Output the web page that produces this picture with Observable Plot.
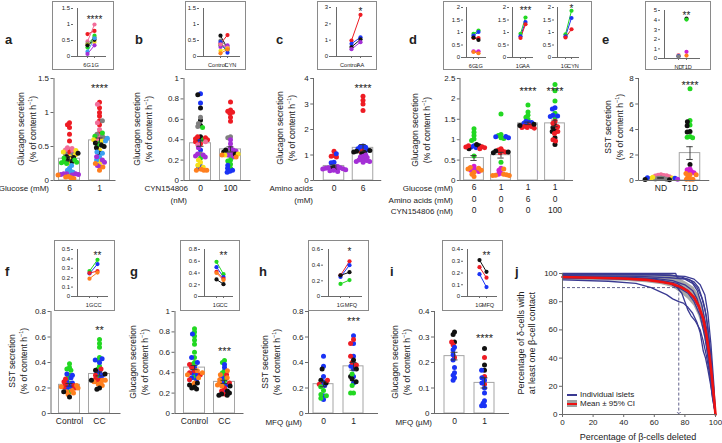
<!DOCTYPE html>
<html><head><meta charset="utf-8">
<script src="https://cdn.jsdelivr.net/npm/d3@7"></script>
<script src="https://cdn.jsdelivr.net/npm/@observablehq/plot@0.6"></script>
<style>
body{margin:0;background:#fff;}
#fig{position:relative;width:722px;height:443px;overflow:hidden;font-family:"Liberation Sans",Arial,Helvetica,sans-serif;color:#222;background:#fff;}
.t{position:absolute;white-space:nowrap;}
.box{position:absolute;border:1px solid #8a8a8a;box-sizing:border-box;}
sup{font-size:0.65em;line-height:0;vertical-align:0.55em;}
svg{position:absolute;}
</style></head>
<body><div id="fig"></div>
<script>
// ---------- colours ----------
const COL = {red:"#ee1c24", pink:"#f26d9a", gray:"#808080", green:"#22d822", yellow:"#f5e01a", black:"#111111",
  ltblue:"#3b9ff0", blue:"#1a33f5", purple:"#a42fd6", orange:"#ff7f1e", magenta:"#d21fd2"};

// ---------- panel a ----------
const aCats = ["6", "1"];
const aG6 = {red:[0.85,0.82,0.78,0.68,0.58,0.45,0.42,0.40], pink:[0.48,0.47,0.45,0.43], gray:[0.39,0.38,0.30],
  yellow:[0.44,0.42,0.38,0.35,0.25], black:[0.40,0.35,0.34,0.30,0.28], green:[0.33,0.30,0.28,0.27,0.26,0.25],
  ltblue:[0.22,0.18,0.15,0.14,0.12,0.10], purple:[0.10,0.10,0.10,0.09,0.09,0.08], orange:[0.08,0.06,0.05,0.04,0.03]};
const aG1 = {red:[1.15,1.07,1.00,0.95,0.88,0.82,0.70,0.60], pink:[1.12,0.85,0.75,0.65,0.60], gray:[0.88,0.68,0.65,0.62],
  green:[0.70,0.65,0.55,0.52], yellow:[0.60,0.58,0.45,0.30,0.25], black:[0.55,0.52,0.50,0.48,0.40],
  ltblue:[0.62,0.58,0.42,0.40,0.35,0.30], purple:[0.35,0.30,0.27,0.22,0.20], orange:[0.25,0.20,0.15]};
const aMeans = [0.32, 0.59];
const aSems = [0.03, 0.035];
const aInsetCats = ["6G", "1G"];
const aInset = {red:[0.70,0.80], pink:[0.47,1.00], gray:[0.40,0.60], green:[0.28,0.65], yellow:[0.37,0.45],
  black:[0.35,0.52], ltblue:[0.15,0.57], purple:[0.08,0.35]};

// ---------- panel b ----------
const bCats = ["0", "100"];
const bG0 = {blue:[0.85,0.76,0.40,0.38,0.30,0.14,0.12], black:[0.84,0.71,0.59,0.54,0.43], gray:[0.62,0.56,0.53,0.26],
  green:[0.52,0.40,0.22], red:[0.43,0.42,0.41,0.40,0.38,0.36], pink:[0.38,0.35], purple:[0.32,0.26,0.25,0.24,0.23],
  yellow:[0.20,0.18,0.15,0.13], orange:[0.11,0.10,0.10,0.10]};
const bG100 = {red:[0.77,0.69,0.68,0.67,0.66,0.62,0.58], gray:[0.43,0.42,0.29,0.28,0.24],
  purple:[0.40,0.36,0.32,0.30,0.29,0.27,0.25,0.23], black:[0.30,0.28,0.26], yellow:[0.26,0.25], orange:[0.25,0.23],
  green:[0.20,0.19,0.16,0.12], blue:[0.15,0.12,0.10,0.09,0.08]};
const bMeans = [0.365, 0.305];
const bSems = [0.03, 0.025];
const bInsetCats = ["Control", "CYN"];
const bInset = {black:[0.65,0.25], red:[0.40,0.67], gray:[0.50,0.30], green:[0.35,0.20], blue:[0.45,0.12],
  purple:[0.30,0.35], pink:[0.38,0.28], yellow:[0.18,0.25], orange:[0.10,0.22]};

// ---------- panel c ----------
const cCats = ["0", "6"];
const cG0 = {red:[1.15,0.98,0.95,0.92], blue:[1.05,0.72,0.70], black:[0.52,0.48,0.45],
  purple:[0.55,0.50,0.50,0.48,0.46,0.45,0.42,0.40,0.38,0.35]};
const cG6 = {red:[3.30,3.15,3.00,2.75,1.20,1.15], blue:[1.35,1.32,1.30,1.25,1.20], black:[1.18,1.15,1.12,1.10,1.05],
  purple:[1.00,0.95,0.92,0.90,0.85,0.82,0.80,0.78,0.75,0.75,0.72]};
const cMeans = [0.57, 1.28];
const cSems = [0.04, 0.13];
const cInsetCats = ["Control", "AA"];
const cInset = {red:[0.98,2.55], blue:[0.78,1.18], black:[0.58,1.05], purple:[0.45,0.88]};

// ---------- panel d ----------
const dCats = ["d1", "d2", "d3", "d4"];
const dGlucose = ["6", "1", "1", "1"];
const dAmino = ["0", "0", "6", "0"];
const dCyn = ["0", "0", "0", "100"];
const dG1 = {green:[1.27,1.18,1.10,1.02,0.98,0.60], blue:[0.85,0.82,0.80], black:[0.88,0.85,0.78],
  red:[0.85,0.83,0.82,0.80,0.78], magenta:[0.35,0.28,0.26,0.25,0.22], orange:[0.32,0.30,0.28,0.25,0.20,0.15,0.10]};
const dG2 = {green:[1.63,1.13,1.10,1.05,1.03,0.45], blue:[1.08,1.07,1.05], red:[0.78,0.75,0.72,0.70,0.68],
  black:[0.72,0.70,0.68], magenta:[0.30,0.25,0.18,0.15], orange:[0.28,0.15,0.14,0.13,0.12,0.12]};
const dG3 = {green:[1.85,1.68,1.60,1.55,1.50], blue:[1.45,1.43,1.42,1.40,1.38], red:[1.35,1.33,1.32,1.30,1.30,1.28],
  black:[1.38,1.35]};
const dG4 = {green:[2.35,2.20,1.95,1.65,1.55], blue:[1.78,1.75,1.60,1.58,1.57], black:[1.35,1.30,1.22,1.20,1.05,0.88],
  red:[1.45,1.40,1.32,1.20,1.15,1.00,0.97]};
const dMeans = [0.55, 0.62, 1.40, 1.40];
const dSems = [0.06, 0.07, 0.03, 0.08];
const dInset1Cats = ["6G", "1G"];
const dInset1 = {green:[0.95,1.08], blue:[0.88,1.02], red:[0.78,0.78], black:[0.80,0.70], magenta:[0.25,0.25], orange:[0.22,0.17]};
const dInset2Cats = ["1G", "AA"];
const dInset2 = {green:[0.95,1.60], blue:[0.85,1.42], red:[0.78,1.33]};
const dInset3Cats = ["1G", "CYN"];
const dInset3 = {green:[0.93,1.87], blue:[0.85,1.58], red:[0.80,1.13]};

// ---------- panel e ----------
const eCats = ["ND", "T1D"];
const eND = {pink:[0.45,0.42,0.40,0.38,0.35,0.30], gray:[0.20,0.18,0.15,0.12,0.10], yellow:[0.25,0.20,0.15],
  blue:[0.22,0.18], black:[0.08,0.05], purple:[0.10]};
const eT1D = {green:[7.20,4.70,4.35,3.45,3.40,3.35], black:[4.60,4.30,3.85,3.80,1.25], magenta:[0.90,0.85,0.70,0.65,0.60],
  orange:[0.55,0.45,0.45,0.30,0.10,0.10,0.10]};
const eMeans = [0.20, 2.15];
const eSems = [0.03, 0.50];
const eInsetCats = ["ND", "T1D"];
const eInset = {pink:[0.35,null], yellow:[0.28,null], blue:[0.24,null], gray:[0.20,null],
  black:[null,4.15], green:[null,4.05], magenta:[null,0.70], orange:[null,0.30]};

// ---------- panel f ----------
const fCats = ["Control", "CC"];
const fCtrl = {green:[0.39,0.36,0.35,0.34,0.30,0.28,0.24,0.17], blue:[0.31,0.30,0.28,0.25,0.24,0.22,0.21,0.20],
  red:[0.27,0.25,0.23,0.22,0.21,0.20], orange:[0.22,0.21,0.20,0.18,0.17,0.16,0.15], black:[0.17,0.13]};
const fCC = {green:[0.58,0.55,0.52,0.44,0.42,0.37,0.35,0.30,0.28], blue:[0.43,0.42,0.40,0.33,0.32,0.30,0.28],
  red:[0.35,0.30,0.27,0.26,0.25], orange:[0.26,0.26,0.25,0.24,0.23,0.22], black:[0.34,0.31,0.26,0.20,0.19]};
const fMeans = [0.225, 0.31];
const fSems = [0.01, 0.015];
const fInsetCats = ["1G", "CC"];
const fInset = {green:[0.27,0.39], blue:[0.245,0.345], red:[0.25,0.27], orange:[0.19,0.255]};

// ---------- panel g ----------
const gCats = ["Control", "CC"];
const gCtrl = {green:[0.83,0.80,0.76,0.72,0.68,0.60,0.55,0.50,0.48,0.38,0.35], blue:[0.78,0.55,0.50,0.45,0.40,0.38,0.35,0.33],
  red:[0.48,0.45,0.42,0.40,0.38,0.33], orange:[0.42,0.40,0.38,0.35,0.30,0.28], black:[0.30,0.28,0.26,0.25,0.24]};
const gCC = {green:[0.52,0.50,0.42,0.40,0.36,0.32,0.28], blue:[0.48,0.45,0.35,0.30,0.28,0.22],
  red:[0.38,0.30,0.25,0.22,0.19], orange:[0.42,0.38,0.35,0.33,0.30,0.28,0.27], black:[0.27,0.22,0.20,0.19,0.18,0.18]};
const gMeans = [0.45, 0.31];
const gSems = [0.02, 0.015];
const gInsetCats = ["1G", "CC"];
const gInset = {green:[0.59,0.38], blue:[0.50,0.33], red:[0.42,0.30], orange:[0.40,0.28], black:[0.29,0.21]};

// ---------- panel h ----------
const hCats = ["0", "1"];
const h0 = {blue:[0.45,0.37,0.29,0.25,0.23,0.22,0.14,0.11], black:[0.35,0.26,0.24], red:[0.26,0.23],
  green:[0.21,0.18,0.15,0.14,0.12]};
const h1 = {blue:[0.61,0.55,0.45,0.38,0.37,0.35,0.29,0.24], red:[0.58,0.55,0.45,0.40,0.38],
  black:[0.42,0.35,0.29,0.27,0.25], green:[0.31,0.22,0.16,0.16]};
const hMeans = [0.23, 0.37];
const hSems = [0.02, 0.03];
const hInsetCats = ["1G", "MFQ"];
const hInset = {red:[0.27,0.45], blue:[0.25,0.40], black:[0.27,0.31], green:[0.16,0.21]};

// ---------- panel i ----------
const iCats = ["0", "1"];
const i0 = {black:[0.32,0.31,0.28], red:[0.28,0.27,0.22], blue:[0.26,0.25,0.23,0.21,0.18,0.16,0.15,0.14,0.13]};
const i1 = {black:[0.255,0.19,0.17], red:[0.22,0.145,0.115], blue:[0.17,0.14,0.13,0.12,0.10,0.08,0.05,0.04,0.03,0.03]};
const iMeans = [0.225, 0.12];
const iSems = [0.015, 0.02];
const iInsetCats = ["1G", "MFQ"];
const iInset = {black:[0.31,0.21], red:[0.25,0.16], blue:[0.19,0.08]};

// ---------- panel j ----------
const jMean = [[0,97.5],[20,97],[40,96.5],[55,95.5],[65,94],[72,92.5],[78,90],[82,87.5],[86,83],[89,77],[92,68],[94,57],[96,42],[97.5,28],[99,12],[100,0]];
const jCI = [[0,95,100],[20,95,100],[40,94.5,99.8],[55,93.5,99.6],[65,92,99.3],[72,90,99],[75,88,98],[78,85.5,95.5],[82,82,93],[86,77,90],[89,70,85],[92,60,77],[94,48,66],[96,34,50],[97.5,22,35],[99,8,16],[100,0,0]];
const jIslet1 = [[0,100],[74,100],[75,97],[82,96],[86,94],[89,90],[92,80],[94,70],[96,50],[98,25],[100,0]];
const jIslet2 = [[0,99],[60,99],[80,98],[86,96],[90,92],[93,85],[95,72],[97,50],[99,20],[100,0]];
const jIslet3 = [[0,98.5],[50,98],[70,97],[80,96],[85,93],[88,88],[91,78],[94,62],[96,45],[98,22],[100,0]];
const jIslet4 = [[0,98],[40,97.5],[60,96.5],[72,95],[80,92],[85,88],[88,82],[91,70],[94,55],[96,38],[98,18],[100,0]];
const jIslet5 = [[0,97],[30,96.5],[55,96],[68,94],[76,90],[82,86],[86,80],[90,70],[93,55],[96,35],[98,15],[100,0]];
const jIslet6 = [[0,95.5],[30,94.5],[48,93],[58,90],[64,87],[68,85],[72,82],[76,80],[79,79],[82,76],[85,72],[88,65],[90,58],[92,45],[93.5,40],[95,32],[97,20],[99,6],[100,0]];
const jIslet7 = [[0,97],[40,96],[60,95],[70,93],[75,90],[78,86],[80,80],[82,74],[84,70],[87,66],[90,60],[92,52],[94,42],[96,30],[98,14],[100,0]];
const jIslet8 = [[0,99.5],[70,99],[78,97.5],[84,95],[88,90],[91,83],[93,75],[95,62],[97,42],[99,15],[100,0]];
const jIslet9 = [[0,97.5],[40,97],[60,96],[75,93],[82,88],[86,82],[89,76],[92,66],[94,52],[96,32],[98,12],[100,0]];
const jCutX = 76, jCutY = 90;
const jTicks = [0, 20, 40, 60, 80, 100];

// ---------- texts ----------
const tGlucagon = ["Glucagon secretion", "(% of content h<sup>−1</sup>)"];
const tSST = ["SST secretion", "(% of content h<sup>−1</sup>)"];
const tJy = ["Percentage of δ-cells with", "at least one β-cell contact"];
const tJx = "Percentage of β-cells deleted";
const tLegend = ["Individual islets", "Mean ± 95% CI"];

// =================================================================
const AX = "#6a6a6a";
const FONT = "'Liberation Sans', Arial, Helvetica, sans-serif";
const fig = document.getElementById("fig");
const style = () => ({background: "none", overflow: "visible", fontFamily: FONT, fontSize: "8px", color: "#222", position: "absolute", maxWidth: "none"});
function place(node, left, top, z) { node.style.left = left + "px"; node.style.top = top + "px"; if (z) node.style.zIndex = z; fig.appendChild(node); }
const fmt = d => `${d}`;

function mainPanel(p) {
  const n = p.cats.length;
  const frameLeft = p.c1 - p.step / 2, frameW = p.step * n;
  const gapL = frameLeft - p.axis, gapR = p.end - (frameLeft + frameW);
  const mL = 40, mR = 16, mT = 14, mB = 42;
  const rows = [];
  p.groups.forEach((grp, i) => {
    for (const [c, vals] of Object.entries(grp)) for (const v of vals) rows.push({g: p.cats[i], v, c: COL[c]});
  });
  const stats = p.cats.map((g, i) => ({g, m: p.means[i], s: p.sems[i]}));
  const barIn = (p.step - p.bw) / 2, capIn = p.step / 2 - 3.5;
  const marks = [
    Plot.rect(stats, {fx: "g", y1: 0, y2: "m", fill: "white", stroke: "#a5a5a5", strokeWidth: 1, insetLeft: barIn, insetRight: barIn}),
    Plot.dot(rows, Plot.dodgeX({anchor: "middle", padding: -2.1}, {fx: "g", y: "v", r: 2.5, fill: "c"})),
    Plot.ruleX(stats, {fx: "g", x: null, y1: d => d.m - d.s, y2: d => d.m + d.s, stroke: "#333", strokeWidth: 0.9}),
    Plot.ruleY(stats, {fx: "g", y: d => d.m + d.s, insetLeft: capIn, insetRight: capIn, stroke: "#333", strokeWidth: 0.9}),
    Plot.ruleY(stats, {fx: "g", y: d => d.m - d.s, insetLeft: capIn, insetRight: capIn, stroke: "#333", strokeWidth: 0.9}),
    Plot.ruleY([0], {insetLeft: -gapL, insetRight: -gapR, stroke: AX}),
    Plot.ruleX([p.cats[0]], {fx: d => d, x: null, y1: p.ydom[0], y2: p.ydom[1], dx: -(p.step / 2 + gapL), stroke: AX}),
    Plot.axisY(p.yticks, {tickFormat: fmt, tickSize: 3, tickPadding: 2, dx: -gapL, fontSize: 8, label: null, stroke: AX}),
    Plot.text(p.stars, {fx: "g", y: "y", text: "t", fontSize: 11, dy: 3})
  ];
  p.catRows.forEach((labels, r) => marks.push(
    Plot.text(p.cats, {fx: d => d, text: (d, i) => labels[i], frameAnchor: "bottom", dy: p.rowDy[r], fontSize: 8.5})));
  const svg = Plot.plot({width: mL + frameW + mR, height: mT + p.h + mB, marginLeft: mL, marginRight: mR, marginTop: mT, marginBottom: mB,
    fx: {domain: p.cats, padding: 0, axis: null}, y: {domain: p.ydom}, color: {type: "identity"}, style: style(), marks});
  place(svg, frameLeft - mL, p.top - mT);
}

function insetPlot(s) {
  const mL = 18, mT = 8, mR = 8, mB = 14;
  const left = s.axis - mL, top = s.top - mT;
  const width = mL + (s.end - s.axis) + mR, height = mT + (s.bottom - s.top) + mB;
  const rows = [];
  for (const [c, vals] of Object.entries(s.series)) vals.forEach((v, i) => { if (v != null) rows.push({k: s.cats[i], v, c: COL[c]}); });
  const labDx = s.labDx || [0, 0];
  const marks = [
    Plot.ruleY([0], {stroke: AX}),
    Plot.ruleX([s.cats[0]], {x: d => d, y1: s.ydom[0], y2: s.ydom[1], dx: s.axis - s.pts[0], stroke: AX}),
    Plot.axisY(s.yticks, {tickFormat: fmt, tickSize: 2, tickPadding: 1.5, fontSize: 6, label: null, stroke: AX}),
    Plot.ruleX(s.cats, {x: d => d, y1: 0, y2: 0, insetBottom: -2, stroke: AX}),
    Plot.text([s.cats[0]], {x: d => d, y: 0, text: d => d, dy: 8.5, dx: labDx[0], fontSize: 5.6}),
    Plot.text([s.cats[1]], {x: d => d, y: 0, text: d => d, dy: 8.5, dx: labDx[1], fontSize: 5.6})
  ];
  if (s.lines !== false) marks.push(Plot.line(rows, {x: "k", y: "v", z: "c", stroke: "c", strokeWidth: 1}));
  marks.push(Plot.dot(rows, {x: "k", y: "v", fill: "c", r: 2.1}));
  if (s.star) marks.push(Plot.text([s.star], {x: d => d.k, y: d => d.y, text: d => d.t, fontSize: 10, dy: 3}));
  const svg = Plot.plot({width, height, marginLeft: mL, marginRight: mR, marginTop: mT, marginBottom: mB,
    x: {type: "point", domain: s.cats, range: [s.pts[0] - left, s.pts[1] - left], axis: null}, y: {domain: s.ydom},
    color: {type: "identity"}, style: style(), marks});
  place(svg, left, top);
}

function box(x0, y0, x1, y1) {
  const d = document.createElement("div");
  d.className = "box";
  Object.assign(d.style, {left: x0 + "px", top: y0 + "px", width: (x1 - x0) + "px", height: (y1 - y0) + "px"});
  fig.appendChild(d);
}
function txt(str, x, y, o = {}) {
  const d = document.createElement("div");
  d.className = "t";
  d.innerHTML = str;
  d.style.fontSize = (o.size || 8) + "px";
  d.style.lineHeight = "1.15";
  if (o.bold) d.style.fontWeight = "bold";
  const ax = o.anchor === "end" ? "-100%" : o.anchor === "middle" ? "-50%" : "0";
  d.style.transform = `translate(${ax}, -50%)`;
  d.style.left = x + "px"; d.style.top = y + "px";
  fig.appendChild(d);
}
function ytitle(lines, cx, cy, size = 8.5, lh = 11.5) {
  const d = document.createElement("div");
  d.className = "t";
  d.innerHTML = lines.join("<br>");
  Object.assign(d.style, {fontSize: size + "px", lineHeight: lh + "px", textAlign: "center", left: cx + "px", top: cy + "px",
    transform: "translate(-50%,-50%) rotate(-90deg)"});
  fig.appendChild(d);
}

// ---------- insets (boxes first) ----------
box(52, 1, 114, 70); box(185, 1, 246, 70); box(317, 1, 377, 70); box(443, 1, 592, 70); box(645, 1, 711, 70);
box(54, 240, 115, 311); box(180, 240, 240, 311); box(308, 240, 369, 311); box(442, 240, 503, 311);

const yT = [0, 0.5, 1, 1.5];
insetPlot({axis: 73, pts: [83, 97], end: 106, top: 8, bottom: 56, ydom: [0, 1.5], yticks: yT, cats: aInsetCats, series: aInset, labDx: [-0.5, 0.5], star: {k: "1G", y: 1.25, t: "****"}});
insetPlot({axis: 199, pts: [216, 231], end: 240, top: 8, bottom: 56, ydom: [0, 1.5], yticks: yT, cats: bInsetCats, series: bInset, labDx: [-3.5, 3]});
insetPlot({axis: 331, pts: [346, 365], end: 372, top: 7, bottom: 56, ydom: [0, 3], yticks: [0, 1, 2, 3], cats: cInsetCats, series: cInset, labDx: [-2.5, 0], star: {k: "AA", y: 2.94, t: "*"}});
const dT = [0, 0.5, 1, 1.5, 2];
insetPlot({axis: 463, pts: [470, 481], end: 486, top: 7, bottom: 57, ydom: [0, 2], yticks: dT, cats: dInset1Cats, series: dInset1, labDx: [-1, 0.5]});
insetPlot({axis: 509, pts: [517, 528], end: 533, top: 7, bottom: 57, ydom: [0, 2], yticks: dT, cats: dInset2Cats, series: dInset2, labDx: [-1, 0.5], star: {k: "AA", y: 2.0, t: "***"}});
insetPlot({axis: 554, pts: [562, 574], end: 579, top: 7, bottom: 57, ydom: [0, 2], yticks: dT, cats: dInset3Cats, series: dInset3, labDx: [-1, 1.5], star: {k: "CYN", y: 2.08, t: "*"}});
insetPlot({axis: 660, pts: [674, 690], end: 700, top: 10, bottom: 58, ydom: [0, 5], yticks: [0, 1, 2, 3, 4, 5], cats: eInsetCats, series: eInset, lines: false, star: {k: "T1D", y: 4.8, t: "**"}});
insetPlot({axis: 73, pts: [85, 101], end: 108, top: 249, bottom: 296, ydom: [0, 0.5], yticks: [0, 0.1, 0.2, 0.3, 0.4, 0.5], cats: fInsetCats, series: fInset, star: {k: "CC", y: 0.47, t: "**"}});
insetPlot({axis: 200, pts: [212, 227], end: 233, top: 249, bottom: 296, ydom: [0, 0.8], yticks: [0, 0.2, 0.4, 0.6, 0.8], cats: gInsetCats, series: gInset, star: {k: "CC", y: 0.75, t: "**"}});
insetPlot({axis: 323, pts: [335, 354], end: 362, top: 249, bottom: 296, ydom: [0, 0.6], yticks: [0, 0.2, 0.4, 0.6], cats: hInsetCats, series: hInset, labDx: [0, 1.5], star: {k: "MFQ", y: 0.61, t: "*"}});
insetPlot({axis: 463, pts: [475, 490], end: 497, top: 249, bottom: 296, ydom: [0, 0.4], yticks: [0, 0.1, 0.2, 0.3, 0.4], cats: iInsetCats, series: iInset, labDx: [-0.5, 1.5], star: {k: "MFQ", y: 0.375, t: "**"}});

// ---------- main swarm panels ----------
const R1 = 78, H = 102, R2 = 311;
mainPanel({cats: aCats, groups: [aG6, aG1], means: aMeans, sems: aSems, axis: 53, c1: 68.5, step: 30, bw: 21, end: 115,
  top: R1, h: H, ydom: [0, 1.5], yticks: [0, 0.5, 1, 1.5], stars: [{g: "1", y: 1.40, t: "****"}], catRows: [aCats], rowDy: [10]});
mainPanel({cats: bCats, groups: [bG0, bG100], means: bMeans, sems: bSems, axis: 183, c1: 199.5, step: 30, bw: 21, end: 250,
  top: R1, h: H, ydom: [0, 1], yticks: [0, 0.2, 0.4, 0.6, 0.8, 1], stars: [], catRows: [bCats], rowDy: [10]});
mainPanel({cats: cCats, groups: [cG0, cG6], means: cMeans, sems: cSems, axis: 312, c1: 332.5, step: 29.5, bw: 21, end: 381,
  top: R1, h: H, ydom: [0, 4], yticks: [0, 1, 2, 3, 4], stars: [{g: "6", y: 3.73, t: "****"}], catRows: [cCats], rowDy: [10]});
mainPanel({cats: dCats, groups: [dG1, dG2, dG3, dG4], means: dMeans, sems: dSems, axis: 459, c1: 473, step: 27.7, bw: 20.5, end: 575,
  top: R1, h: H, ydom: [0, 2.5], yticks: [0, 0.5, 1, 1.5, 2, 2.5], stars: [{g: "d3", y: 2.25, t: "****"}, {g: "d4", y: 2.25, t: "****"}],
  catRows: [dGlucose, dAmino, dCyn], rowDy: [10, 22, 33]});
mainPanel({cats: eCats, groups: [eND, eT1D], means: eMeans, sems: eSems, axis: 637, c1: 659.5, step: 29.5, bw: 21, end: 709,
  top: R1, h: H, ydom: [0, 8], yticks: [0, 2, 4, 6, 8], stars: [{g: "T1D", y: 7.7, t: "****"}], catRows: [eCats], rowDy: [10]});
mainPanel({cats: fCats, groups: [fCtrl, fCC], means: fMeans, sems: fSems, axis: 50, c1: 68.5, step: 30, bw: 21, end: 120,
  top: R2, h: H, ydom: [0, 0.8], yticks: [0, 0.2, 0.4, 0.6, 0.8], stars: [{g: "CC", y: 0.675, t: "**"}], catRows: [fCats], rowDy: [10]});
mainPanel({cats: gCats, groups: [gCtrl, gCC], means: gMeans, sems: gSems, axis: 174, c1: 193.5, step: 30, bw: 21, end: 243,
  top: R2, h: H, ydom: [0, 1], yticks: [0, 0.2, 0.4, 0.6, 0.8, 1], stars: [{g: "CC", y: 0.64, t: "***"}], catRows: [gCats], rowDy: [10]});
mainPanel({cats: hCats, groups: [h0, h1], means: hMeans, sems: hSems, axis: 308, c1: 323, step: 30, bw: 20, end: 378,
  top: R2, h: H, ydom: [0, 0.8], yticks: [0, 0.2, 0.4, 0.6, 0.8], stars: [{g: "1", y: 0.745, t: "***"}], catRows: [hCats], rowDy: [10]});
mainPanel({cats: iCats, groups: [i0, i1], means: iMeans, sems: iSems, axis: 434, c1: 454, step: 30, bw: 20, end: 509,
  top: R2, h: H, ydom: [0, 0.4], yticks: [0, 0.1, 0.2, 0.3, 0.4], stars: [{g: "1", y: 0.306, t: "****"}], catRows: [iCats], rowDy: [10]});

// ---------- panel j ----------
{
  const mL = 44, mR = 7, mT = 8, mB = 4;
  const islets = [jIslet1, jIslet2, jIslet3, jIslet4, jIslet5, jIslet6, jIslet7, jIslet8, jIslet9]
    .flatMap((arr, id) => arr.map(([x, y]) => ({id, x, y})));
  const svg = Plot.plot({width: mL + 153 + mR, height: mT + 141 + mB, marginLeft: mL, marginRight: mR, marginTop: mT, marginBottom: mB,
    x: {domain: [0, 100], axis: null}, y: {domain: [0, 100], axis: null}, style: style(),
    marks: [
      Plot.areaY(jCI, {x: d => d[0], y1: d => d[1], y2: d => d[2], fill: "#a9a9a9"}),
      Plot.line(islets, {x: "x", y: "y", z: "id", stroke: "#3a3a92", strokeWidth: 1.3}),
      Plot.line(jMean, {x: d => d[0], y: d => d[1], stroke: "#ee1111", strokeWidth: 2.6}),
      Plot.ruleY([jCutY], {x1: 0, x2: jCutX, stroke: "#3a3a70", strokeWidth: 0.8, strokeDasharray: "3,2"}),
      Plot.link([jCutX], {x1: d => d, x2: d => d, y1: jCutY, y2: 1, stroke: "#3a3a70", strokeWidth: 0.8, strokeDasharray: "3,2", markerEnd: "arrow"}),
      Plot.ruleX([0], {stroke: AX}),
      Plot.ruleY([0], {stroke: AX}),
      Plot.ruleX(jTicks, {x: d => d, y1: 0, y2: 0, insetBottom: -3, stroke: AX}),
      Plot.ruleY(jTicks, {y: d => d, x1: 0, x2: 0, insetLeft: -3, stroke: AX}),
      Plot.text(jTicks, {x: 0, y: d => d, text: fmt, dx: -5, textAnchor: "end", fontSize: 8, fill: "#222"})
    ]});
  place(svg, 562 - mL, 273 - mT, 10);
  // x tick labels of panel j: a strip sharing the x domain, labels lifted above the strip into place under the axis
  const mLx = 10, mRx = 10;
  const xsvg = Plot.plot({width: mLx + 153 + mRx, height: 20, marginLeft: mLx, marginRight: mRx, marginTop: 1, marginBottom: 19,
    x: {domain: [0, 100]}, style: style(),
    marks: [
      Plot.axisX(jTicks, {anchor: "bottom", tickSize: 0, tickPadding: 5, fontSize: 8, label: null, tickFormat: fmt, dy: -20})
    ]});
  place(xsvg, 562 - mLx, 433, 12);
}

// ---------- titles & labels ----------
ytitle(tGlucagon, 26.5, 129); ytitle(tGlucagon, 142.5, 129); ytitle(tGlucagon, 286, 128); ytitle(tGlucagon, 421, 130);
ytitle(tSST, 614, 127);
ytitle(tSST, 17.5, 361); ytitle(tGlucagon, 139, 362); ytitle(tSST, 271, 362); ytitle(tGlucagon, 401, 362);
ytitle(tJy, 527, 343, 9, 11);

txt("Glucose (mM)", 49, 189, {anchor: "end"});
txt("CYN154806", 188, 189, {anchor: "end"}); txt("(nM)", 187, 201, {anchor: "end"});
txt("Amino acids", 313, 189, {anchor: "end"}); txt("(mM)", 313, 201, {anchor: "end"});
txt("Glucose (mM)", 453, 189, {anchor: "end"}); txt("Amino acids (mM)", 453, 201, {anchor: "end"}); txt("CYN154806 (nM)", 453, 212, {anchor: "end"});
txt("MFQ (µM)", 302, 423, {anchor: "end"}); txt("MFQ (µM)", 432, 423, {anchor: "end"});
txt(tJx, 638, 437, {anchor: "middle", size: 9});

// legend j
{
  const sw1 = document.createElement("div");
  Object.assign(sw1.style, {position: "absolute", left: "567px", top: "394px", width: "10px", height: "2px", background: "#3a3a92", zIndex: 11});
  fig.appendChild(sw1);
  const sw2 = document.createElement("div");
  Object.assign(sw2.style, {position: "absolute", left: "567px", top: "400px", width: "10px", height: "7px", background: "#a0a0a0", zIndex: 11});
  fig.appendChild(sw2);
  const sw3 = document.createElement("div");
  Object.assign(sw3.style, {position: "absolute", left: "567px", top: "402.5px", width: "10px", height: "2px", background: "#ee1111", zIndex: 11});
  fig.appendChild(sw3);
  txt(tLegend[0], 580, 395, {size: 8}); txt(tLegend[1], 580, 404, {size: 8});
}

// panel letters
[["a", 5, 40], ["b", 135, 40], ["c", 276, 40], ["d", 409, 40], ["e", 602, 40],
 ["f", 5, 272], ["g", 130, 272], ["h", 259, 272], ["i", 390, 272], ["j", 515, 272]]
  .forEach(([l, x, y]) => txt(l, x, y, {bold: true, size: 13}));
</script></body></html>
